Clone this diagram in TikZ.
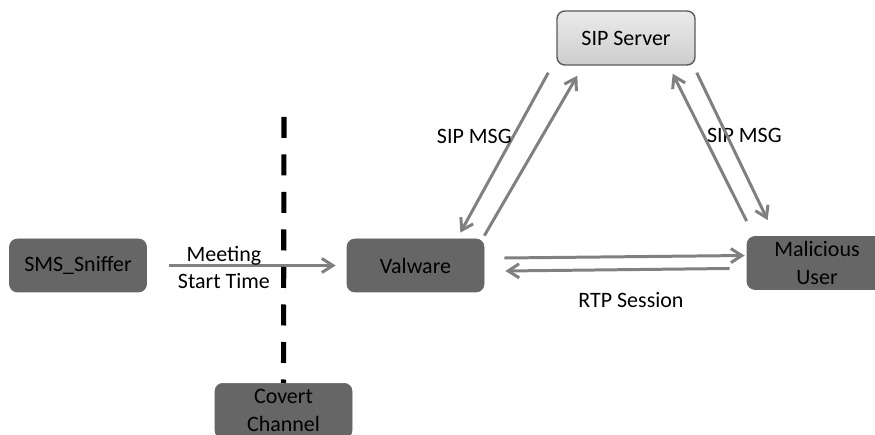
\documentclass[tikz,border=0pt]{standalone}
\usepackage{fontspec}
\setmainfont{Carlito}
\usetikzlibrary{arrows.meta, positioning}
\definecolor{boxdark}{HTML}{666666}
\definecolor{boxtop}{HTML}{EBEBEB}
\definecolor{boxbottom}{HTML}{CDCDCD}
\definecolor{boxline}{HTML}{5A5A5A}
\definecolor{flowgray}{HTML}{808080}

\begin{document}
\begin{tikzpicture}[
    every node/.style={font=\fontsize{12.5}{16}\selectfont, text=black},
    darkbox/.style={draw=boxdark, fill=boxdark, rounded corners=4.5pt, minimum width=2.74cm, minimum height=1.06cm, align=center, inner sep=1pt},
    lightbox/.style={draw=boxline, line width=0.8pt, top color=boxtop, bottom color=boxbottom, rounded corners=4.5pt, minimum width=2.76cm, minimum height=1.08cm, align=center},
    flow/.style={-{Straight Barb[length=2.2mm, width=2.8mm]}, line width=1.7pt, flowgray},
    cut/.style={line width=2.9pt, black, dash pattern=on 0.42cm off 0.33cm}
]
\useasboundingbox (0,0) rectangle (17.5,-8.7);

% Blocks
\node[lightbox] (sipserver) at (12.52,-0.76) {SIP Server};
\node[darkbox] (sniffer) at (1.56,-5.31) {SMS\_Sniffer};
\node[darkbox] (valware) at (8.31,-5.31) {Valware};
\node[darkbox, minimum width=2.8cm] (malicious) at (16.34,-5.26) {Malicious\\User};
\node[darkbox, anchor=north, minimum height=1.1cm] (covert) at (5.67,-7.66) {Covert\\Channel};

% Meeting start time
\draw[flow] ([xshift=0.44cm]sniffer.east) -- node[pos=0.33, above, inner sep=1pt, yshift=-0.06cm] (meet) {Meeting} node[pos=0.33, below, inner sep=1pt, yshift=-0.1cm] (start) {Start Time} ([xshift=-0.22cm]valware.west);

% Covert channel border
\coordinate (cuttop) at (5.68,-2.34);
\draw[cut] (cuttop) -- (covert.north);

% SIP messages
\draw[flow] ([xshift=-0.16cm, yshift=-0.14cm]sipserver.south west) -- node[pos=0.4, left, inner sep=0pt] (sipl) {SIP MSG} ([xshift=-0.48cm, yshift=0.12cm]valware.north east);
\draw[flow] ([yshift=0.06cm]valware.north east) -- ([xshift=0.42cm, yshift=-0.2cm]sipserver.south west);
\draw[flow] ([yshift=0.3cm]malicious.north west) -- node[pos=0.58, right, inner sep=1pt] (sipr) {SIP MSG} ([xshift=-0.46cm, yshift=-0.16cm]sipserver.south east);
\draw[flow] ([xshift=0.02cm, yshift=-0.14cm]sipserver.south east) -- ([xshift=0.42cm, yshift=0.32cm]malicious.north west);

% RTP session
\draw[flow] ([xshift=0.4cm, yshift=0.15cm]valware.east) -- ([xshift=-0.04cm, yshift=0.15cm]malicious.west);
\draw[flow] ([xshift=-0.34cm, yshift=-0.11cm]malicious.west) -- node[pos=0.44, below=0.3cm] (rtp) {RTP Session} ([xshift=0.42cm, yshift=-0.11cm]valware.east);

\end{tikzpicture}
\end{document}
